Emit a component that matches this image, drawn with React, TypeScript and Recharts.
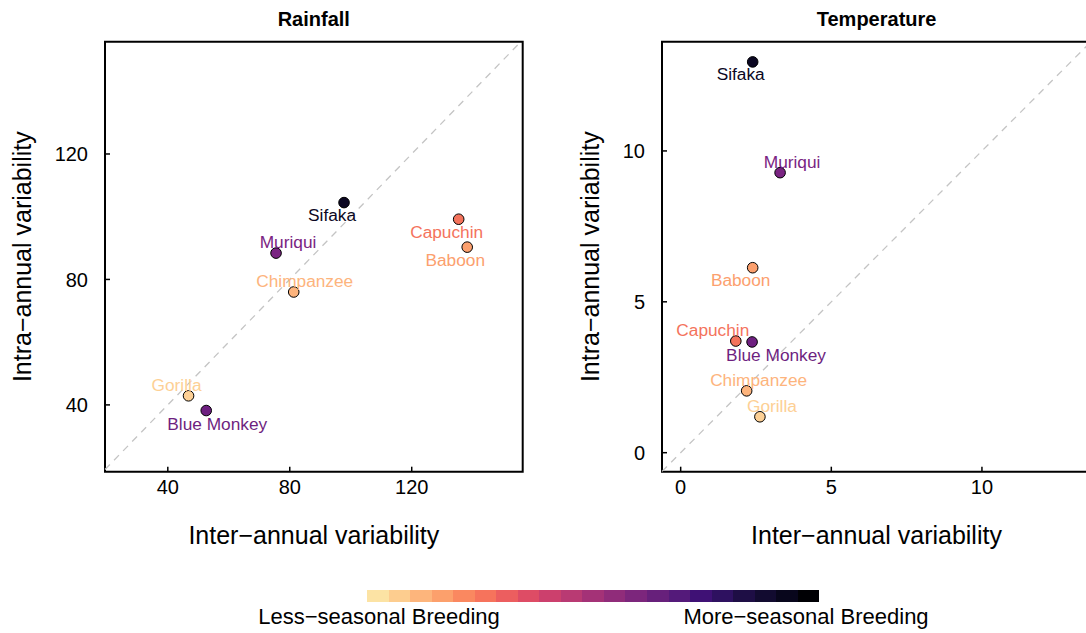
import { ScatterChart, Scatter, XAxis, YAxis, ReferenceLine, ReferenceArea } from 'recharts';

// species and their variability values
const species = ['Sifaka', 'Capuchin', 'Baboon', 'Muriqui', 'Chimpanzee', 'Gorilla', 'Blue Monkey'];
const rainInter = [97.8, 135.4, 138.2, 75.5, 81.3, 46.8, 52.6];
const rainIntra = [104.5, 99.2, 90.3, 88.4, 76.0, 42.9, 38.2];
const tempInter = [2.39, 1.83, 2.39, 3.3, 2.19, 2.63, 2.37];
const tempIntra = [12.95, 3.7, 6.13, 9.28, 2.05, 1.19, 3.67];

const rainTicks = [40, 80, 120];
const tempTicks = [0, 5, 10];

const FONT = '"Liberation Sans", Arial, Helvetica, sans-serif';

// breeding seasonality colour per species (magma)
const speciesColors: Record<string, string> = {
  Sifaka: '#0B0722',
  Capuchin: '#F4735C',
  Baboon: '#FCA06E',
  Muriqui: '#7A2482',
  Chimpanzee: '#FDB47D',
  Gorilla: '#FDD095',
  'Blue Monkey': '#6E1F80',
};

// magma ramp for the colour bar, light -> dark
const barColors = [
  '#FCE3A4', '#FDCD8F', '#FDB57C', '#FCA06C', '#FA8860', '#F6735C', '#EC5E5F',
  '#DE4C65', '#CC406D', '#B93A73', '#A43277', '#902C7A', '#7C267C', '#67207B',
  '#541A7A', '#3F1175', '#2E1160', '#1E0E45', '#120B30', '#08061C', '#000004',
];

// label placement (dx, dy from the point), like ggrepel
const rainLabelPos: Record<string, [number, number]> = {
  Sifaka: [-12, 12],
  Capuchin: [-12, 13],
  Baboon: [-12, 13],
  Muriqui: [12, -11],
  Chimpanzee: [11, -11],
  Gorilla: [-12, -11],
  'Blue Monkey': [11, 13],
};
const tempLabelPos: Record<string, [number, number]> = {
  Sifaka: [-12, 12],
  Capuchin: [-23, -11],
  Baboon: [-12, 12],
  Muriqui: [12, -11],
  Chimpanzee: [12, -11],
  Gorilla: [12, -11],
  'Blue Monkey': [24, 13],
};

const rainData = species.map((name, i) => ({ name, x: rainInter[i], y: rainIntra[i] }));
const tempData = species.map((name, i) => ({ name, x: tempInter[i], y: tempIntra[i] }));

const makeShape = (pos: Record<string, [number, number]>) => (props: any) => {
  const { cx, cy, payload } = props;
  const c = speciesColors[payload.name];
  const [dx, dy] = pos[payload.name];
  return (
    <g>
      <circle cx={cx} cy={cy} r={5.3} fill={c} stroke="#000" strokeWidth={1} />
      <text
        x={cx + dx}
        y={cy + dy}
        textAnchor="middle"
        dominantBaseline="central"
        fill={c}
        fontSize={17.3}
        fontFamily={FONT}
      >
        {payload.name}
      </text>
    </g>
  );
};

const PLOT_TOP = 41.7;
const PLOT_H = 430;
const CHART_H = 560;

type PanelProps = {
  data: { name: string; x: number; y: number }[];
  xDomain: [number, number];
  yDomain: [number, number];
  ticks: number[];
  labelPos: Record<string, [number, number]>;
  width: number;
  yAxisWidth: number;
  plotW: number;
  yTitleX: number;
};

const Panel = ({ data, xDomain, yDomain, ticks, labelPos, width, yAxisWidth, plotW, yTitleX }: PanelProps) => {
  const lo = Math.max(xDomain[0], yDomain[0]);
  const hi = Math.min(xDomain[1], yDomain[1]);
  const tickStyle = { fill: '#000', fontSize: 20, fontFamily: FONT };
  return (
    <ScatterChart
      width={width}
      height={CHART_H}
      margin={{ top: PLOT_TOP, right: width - yAxisWidth - plotW, bottom: 0, left: 0 }}
    >
      <XAxis
        type="number"
        dataKey="x"
        domain={xDomain}
        allowDataOverflow
        ticks={ticks}
        height={CHART_H - PLOT_TOP - PLOT_H}
        axisLine={false}
        tickSize={-5}
        tickMargin={13.3}
        tickLine={{ stroke: '#000', strokeWidth: 1.5 }}
        tick={tickStyle}
        label={{
          content: (p: any) => (
            <text
              x={p.viewBox.x + p.viewBox.width / 2}
              y={p.viewBox.y + 62.8}
              textAnchor="middle"
              dominantBaseline="central"
              fontSize={25}
              fontFamily={FONT}
              fill="#000"
            >
              Inter−annual variability
            </text>
          ),
        }}
      />
      <YAxis
        type="number"
        dataKey="y"
        domain={yDomain}
        allowDataOverflow
        ticks={ticks}
        width={yAxisWidth}
        axisLine={false}
        tickSize={-5}
        tickMargin={22}
        tickLine={{ stroke: '#000', strokeWidth: 1.5 }}
        tick={tickStyle}
        label={{
          content: (p: any) => {
            const cx = yTitleX;
            const cy = p.viewBox.y + p.viewBox.height / 2;
            return (
              <text
                x={cx}
                y={cy}
                transform={`rotate(-90 ${cx} ${cy})`}
                textAnchor="middle"
                dominantBaseline="central"
                fontSize={25}
                fontFamily={FONT}
                fill="#000"
              >
                Intra−annual variability
              </text>
            );
          },
        }}
      />
      <ReferenceLine
        segment={[{ x: lo, y: lo }, { x: hi, y: hi }]}
        stroke="#C4C4C4"
        strokeWidth={1.3}
        strokeDasharray="7 6"
        ifOverflow="visible"
      />
      <ReferenceArea
        x1={xDomain[0]}
        x2={xDomain[1]}
        y1={yDomain[0]}
        y2={yDomain[1]}
        fill="none"
        stroke="#000"
        strokeWidth={2}
        ifOverflow="visible"
      />
      <Scatter data={data} shape={makeShape(labelPos)} isAnimationActive={false} />
    </ScatterChart>
  );
};

export default function App() {
  const segW = 452 / barColors.length;
  return (
    <div
      style={{
        position: 'fixed',
        left: 0,
        top: 0,
        width: 1086,
        height: 633,
        overflow: 'hidden',
        background: '#fff',
        fontFamily: FONT,
      }}
    >
      <div style={{ position: 'absolute', left: 0, top: 0 }}>
        <Panel
          data={rainData}
          xDomain={[19.4, 156.4]}
          yDomain={[18.7, 155.8]}
          ticks={rainTicks}
          labelPos={rainLabelPos}
          width={540}
          yAxisWidth={105}
          plotW={417.7}
          yTitleX={22}
        />
      </div>
      <div style={{ position: 'absolute', left: 540, top: 0 }}>
        <Panel
          data={tempData}
          xDomain={[-0.62, 13.62]}
          yDomain={[-0.63, 13.62]}
          ticks={tempTicks}
          labelPos={tempLabelPos}
          width={560}
          yAxisWidth={122}
          plotW={429}
          yTitleX={50.5}
        />
      </div>
      <div style={{ position: 'absolute', left: 367.3, top: 590, display: 'flex' }}>
        {barColors.map((c, i) => (
          <div key={i} style={{ width: segW, height: 11.7, background: c }} />
        ))}
      </div>
      <svg
        width={1086}
        height={633}
        style={{ position: 'absolute', left: 0, top: 0, pointerEvents: 'none' }}
      >
        <text x={313.8} y={19} textAnchor="middle" dominantBaseline="central" fontSize={20} fontWeight="bold" fontFamily={FONT}>
          Rainfall
        </text>
        <text x={876.6} y={19} textAnchor="middle" dominantBaseline="central" fontSize={20} fontWeight="bold" fontFamily={FONT}>
          Temperature
        </text>
        <text x={379} y={616.6} textAnchor="middle" dominantBaseline="central" fontSize={22} fontFamily={FONT}>
          Less−seasonal Breeding
        </text>
        <text x={806} y={616.6} textAnchor="middle" dominantBaseline="central" fontSize={22} fontFamily={FONT}>
          More−seasonal Breeding
        </text>
      </svg>
    </div>
  );
}
